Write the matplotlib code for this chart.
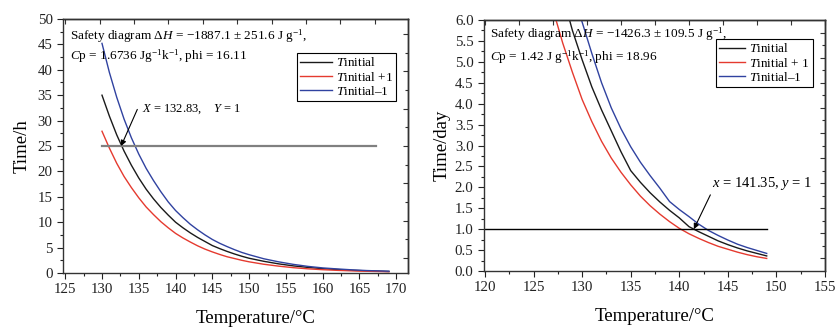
import matplotlib
matplotlib.use('Agg')
import matplotlib.pyplot as plt
from matplotlib.ticker import MultipleLocator, NullFormatter

plt.rcParams['font.family'] = ['Liberation Serif', 'DejaVu Serif']
plt.rcParams['mathtext.fontset'] = 'custom'
plt.rcParams['mathtext.rm'] = 'Liberation Serif'
plt.rcParams['mathtext.it'] = 'Liberation Serif:italic'
plt.rcParams['axes.linewidth'] = 1.0

# ---- left panel data (time in h) ----
tA = [130, 131, 132, 133, 134, 135, 136, 137, 138, 139, 140, 141, 142, 143, 144,
      145, 146, 147, 148, 149, 150, 152, 154, 156, 158, 160, 162, 164, 166, 169]
hA_init = [35.0, 30.9, 27.2, 24.0, 21.2, 18.7, 16.5, 14.6, 12.9, 11.4, 10.0, 8.9, 7.9, 7.0, 6.2,
           5.4, 4.8, 4.25, 3.75, 3.3, 2.9, 2.3, 1.8, 1.4, 1.1, 0.85, 0.68, 0.53, 0.42, 0.3]
hA_plus = [27.9, 24.6, 21.6, 19.0, 16.8, 14.8, 13.0, 11.5, 10.1, 8.9, 7.8, 6.9, 6.1, 5.35, 4.7,
           4.15, 3.65, 3.2, 2.85, 2.5, 2.2, 1.72, 1.35, 1.05, 0.82, 0.65, 0.52, 0.42, 0.34, 0.25]
hA_minus = [45.2, 39.5, 34.6, 30.3, 26.6, 23.4, 20.6, 18.2, 16.0, 14.0, 12.3, 10.9, 9.6, 8.5, 7.5,
            6.6, 5.85, 5.2, 4.6, 4.05, 3.6, 2.8, 2.2, 1.7, 1.3, 1.0, 0.8, 0.62, 0.48, 0.35]
limA = [130, 167.2]   # 25 h line
limA_y = 25

# ---- right panel data (time in day) ----
tB_init = [128, 129, 130, 131, 132, 133, 134, 135, 136, 137, 138, 139, 140, 141,
           142, 143, 144, 145, 146, 147, 148, 149]
dB_init = [6.6, 5.75, 5.05, 4.4, 3.85, 3.35, 2.85, 2.4, 2.12, 1.87, 1.65, 1.45, 1.27, 1.06,
           0.94, 0.83, 0.72, 0.63, 0.55, 0.48, 0.42, 0.36]
tB_plus = [127, 128, 129, 130, 131, 132, 133, 134, 135, 136, 137, 138, 139, 140, 141,
           142, 143, 144, 145, 146, 147, 148, 149]
dB_plus = [6.25, 5.45, 4.75, 4.1, 3.57, 3.1, 2.7, 2.36, 2.06, 1.79, 1.56, 1.36, 1.18, 1.02, 0.89,
           0.78, 0.68, 0.59, 0.52, 0.45, 0.39, 0.34, 0.30]
tB_minus = [129, 130, 131, 132, 133, 134, 135, 136, 137, 138, 139, 140, 141,
            142, 143, 144, 145, 146, 147, 148, 149]
dB_minus = [6.7, 5.95, 5.2, 4.5, 3.9, 3.4, 2.97, 2.6, 2.28, 1.98, 1.66, 1.47, 1.3,
            1.12, 0.97, 0.85, 0.74, 0.64, 0.56, 0.49, 0.42]
limB = [120, 149.05]
limB_y = 1

c_blk = '#1a1a1a'
c_red = '#e53a2f'
c_blu = '#3042a0'

fig = plt.figure(figsize=(8.39, 3.28), dpi=100)
ax1 = fig.add_axes([0.0751, 0.1677, 0.4112, 0.7744])
ax2 = fig.add_axes([0.5769, 0.1738, 0.4064, 0.7652])


def frame(ax, top_ticks, right_major, right_minor):
    for s in ax.spines.values():
        s.set_color('#333333')
    ax.tick_params(which='both', direction='out', labelsize=10.7, colors='#222222')
    ax.tick_params(which='major', length=4, width=0.8)
    ax.tick_params(which='minor', length=2.2, width=0.8)
    top = ax.secondary_xaxis('top')
    top.set_xticks(top_ticks)
    top.xaxis.set_major_formatter(NullFormatter())
    top.tick_params(direction='in', length=3.5, width=0.8, colors='#333333')
    right = ax.secondary_yaxis('right')
    right.set_yticks(right_major)
    right.set_yticks(right_minor, minor=True)
    right.yaxis.set_major_formatter(NullFormatter())
    right.tick_params(which='major', direction='in', length=3.5, width=0.8, colors='#333333')
    right.tick_params(which='minor', direction='in', length=2, width=0.8, colors='#333333')


# left panel
ax1.plot(tA, hA_init, color=c_blk, lw=1.0, label='$T$initial')
ax1.plot(tA, hA_plus, color=c_red, lw=1.0, label='$T$initial +1')
ax1.plot(tA, hA_minus, color=c_blu, lw=1.0, label='$T$initial–1')
ax1.plot(limA, [limA_y, limA_y], color='#808080', lw=1.6)
ax1.set_xlim(124.7, 171.6)
ax1.set_ylim(0, 50)
ax1.xaxis.set_major_locator(MultipleLocator(5))
ax1.xaxis.set_minor_locator(MultipleLocator(2.5))
ax1.yaxis.set_major_locator(MultipleLocator(5))
ax1.yaxis.set_minor_locator(MultipleLocator(2.5))
ax1.set_xlabel('Temperature/°C', fontsize=13.5)
ax1.xaxis.set_label_coords(0.557, -0.145)
ax1.set_ylabel('Time/h', fontsize=13.5, labelpad=5)
frame(ax1, [125 + 4.677 * i for i in range(11)],
      [25 + 7.36 * i for i in range(-3, 4)],
      [28.68 + 7.36 * i for i in range(-4, 3)])
ax1.text(125.6, 46.6, r'Safety diagram $\Delta H$ = −1887.1 ± 251.6 J g$^{-1}$,',
         fontsize=9.5, va='center', ha='left')
ax1.text(125.6, 42.6, r'$C$p = 1.6736 Jg$^{-1}$k$^{-1}$, phi = 16.11',
         fontsize=9.5, va='center', ha='left')
ax1.annotate('', xy=(132.6, 25), xytext=(134.8, 32.2),
             arrowprops=dict(arrowstyle='-|>', color='black', lw=0.8,
                             mutation_scale=8, shrinkA=0, shrinkB=0))
ax1.text(135.4, 32.2, r'$X$ = 132.83,    $Y$ = 1', fontsize=9, va='center', ha='left')
leg1 = ax1.legend(loc='upper right', bbox_to_anchor=(0.965, 0.866), fontsize=9.5,
                  fancybox=False, edgecolor='black', framealpha=1, handlelength=2.4,
                  labelspacing=0.1, borderpad=0.25, handletextpad=0.3, borderaxespad=0)
leg1.get_frame().set_linewidth(0.8)

# right panel
ax2.plot(tB_init, dB_init, color=c_blk, lw=1.0, label='$T$initial')
ax2.plot(tB_plus, dB_plus, color=c_red, lw=1.0, label='$T$initial + 1')
ax2.plot(tB_minus, dB_minus, color=c_blu, lw=1.0, label='$T$initial–1')
ax2.plot(limB, [limB_y, limB_y], color='black', lw=1.0)
ax2.set_xlim(119.9, 155)
ax2.set_ylim(0, 6)
ax2.xaxis.set_major_locator(MultipleLocator(5))
ax2.xaxis.set_minor_locator(MultipleLocator(2.5))
ax2.yaxis.set_major_locator(MultipleLocator(0.5))
ax2.yaxis.set_minor_locator(MultipleLocator(0.25))
ax2.yaxis.set_major_formatter(matplotlib.ticker.FormatStrFormatter('%.1f'))
ax2.set_xlabel('Temperature/°C', fontsize=13.5, labelpad=10)
ax2.set_ylabel('Time/day', fontsize=13.5, labelpad=3)
frame(ax2, [120 + 3.5 * i for i in range(11)],
      [0.3 + 0.6 * i for i in range(10)],
      [0.6 + 0.6 * i for i in range(9)])
ax2.text(120.5, 5.66, r'Safety diagram $\Delta H$ = −1426.3 ± 109.5 J g$^{-1}$,',
         fontsize=9.5, va='center', ha='left')
ax2.text(120.5, 5.12, r'$C$p = 1.42 J g$^{-1}$k$^{-1}$, phi = 18.96',
         fontsize=9.5, va='center', ha='left')
ax2.annotate('', xy=(141.5, 1.0), xytext=(143.2, 1.82),
             arrowprops=dict(arrowstyle='-|>', color='black', lw=0.8,
                             mutation_scale=8, shrinkA=0, shrinkB=0))
ax2.text(143.4, 2.1, r'$x$ = 141.35, $y$ = 1', fontsize=10.5, va='center', ha='left')
leg2 = ax2.legend(loc='upper right', bbox_to_anchor=(0.965, 0.924), fontsize=9.5,
                  fancybox=False, edgecolor='black', framealpha=1, handlelength=2.0,
                  labelspacing=0.1, borderpad=0.25, handletextpad=0.3, borderaxespad=0)
leg2.get_frame().set_linewidth(0.8)

plt.savefig('out.png', dpi=100)
plt.close()
